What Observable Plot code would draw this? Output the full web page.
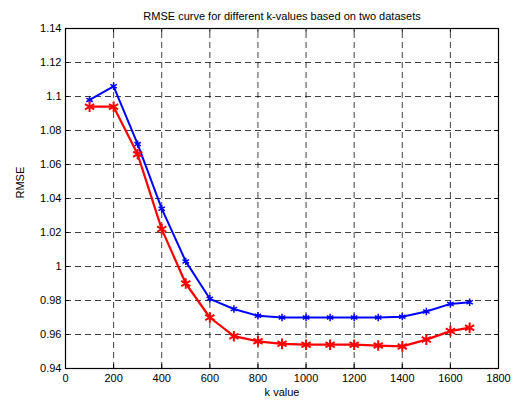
<!DOCTYPE html>
<html><head><meta charset="utf-8">
<script src="https://cdn.jsdelivr.net/npm/d3@7"></script>
<script src="https://cdn.jsdelivr.net/npm/@observablehq/plot@0.6"></script>
<style>body{margin:0;background:#fff}</style>
</head><body><div id="chart"></div>
<script>
const title = "RMSE curve for different k-values based on two datasets";
const xLabel = "k value";
const yLabel = "RMSE";
const kValues = [100,200,300,400,500,600,700,800,900,1000,1100,1200,1300,1400,1500,1600,1680];
const blueRMSE = [1.098,1.106,1.072,1.034,1.003,0.981,0.975,0.971,0.970,0.970,0.970,0.970,0.970,0.9705,0.9735,0.978,0.979];
const redRMSE = [1.094,1.094,1.066,1.022,0.990,0.970,0.959,0.956,0.9545,0.954,0.954,0.954,0.9535,0.953,0.957,0.962,0.964];
const xTicks = [0,200,400,600,800,1000,1200,1400,1600,1800];
const yTicks = [0.94,0.96,0.98,1.00,1.02,1.04,1.06,1.08,1.10,1.12,1.14];

const blue = kValues.map((k,i)=>({k, v: blueRMSE[i]}));
const red = kValues.map((k,i)=>({k, v: redRMSE[i]}));
const xMin = 0, xMax = 1800, yMin = 0.94, yMax = 1.14;
const tx = 4/48.1*200, ty = 4/34*0.02;
const grid = {stroke:"#000", strokeOpacity:0.75, strokeDasharray:"6,4", strokeWidth:1};
const tickStyle = {stroke:"#000", strokeWidth:1};

const chart = Plot.plot({
  width: 520, height: 407,
  marginLeft: 65, marginRight: 22, marginTop: 28, marginBottom: 39,
  style: {fontFamily: "'Liberation Sans', Arial, sans-serif", fontSize: "11px", background: "#fff", color: "#000"},
  x: {domain: [xMin, xMax]},
  y: {domain: [yMin, yMax]},
  marks: [
    Plot.ruleX(xTicks.slice(1,-1), {...grid, y1: yMin, y2: yMax}),
    Plot.ruleY(yTicks.slice(1,-1), {...grid, x1: xMin, x2: xMax}),
    Plot.ruleX(xTicks, {...tickStyle, y1: yMin, y2: yMin + ty}),
    Plot.ruleX(xTicks, {...tickStyle, y1: yMax, y2: yMax - ty}),
    Plot.ruleY(yTicks, {...tickStyle, x1: xMin, x2: xMin + tx}),
    Plot.ruleY(yTicks, {...tickStyle, x1: xMax, x2: xMax - tx}),
    Plot.frame({stroke: "#000", strokeWidth: 1.2}),
    Plot.axisX({ticks: xTicks, tickSize: 0, tickPadding: 6, label: null, tickFormat: d => String(d)}),
    Plot.axisY({ticks: yTicks, tickSize: 0, tickPadding: 4, label: null, tickFormat: d => String(+d.toFixed(2))}),
    Plot.line(blue, {x: "k", y: "v", stroke: "#0000ff", strokeWidth: 2}),
    Plot.dot(blue, {x: "k", y: "v", stroke: "#0000ff", symbol: "asterisk", r: 3.5, strokeWidth: 1.5}),
    Plot.line(red, {x: "k", y: "v", stroke: "#ff0000", strokeWidth: 2.2}),
    Plot.dot(red, {x: "k", y: "v", stroke: "#ff0000", symbol: "asterisk", r: 5, strokeWidth: 2}),
    Plot.text([title], {frameAnchor: "top", dy: -16, fontSize: 11}),
    Plot.text([xLabel], {frameAnchor: "bottom", dy: 27, fontSize: 11}),
    Plot.text([yLabel], {frameAnchor: "left", dx: -45, rotate: -90, fontSize: 11})
  ]
});
document.getElementById("chart").appendChild(chart);
</script>
</body></html>
